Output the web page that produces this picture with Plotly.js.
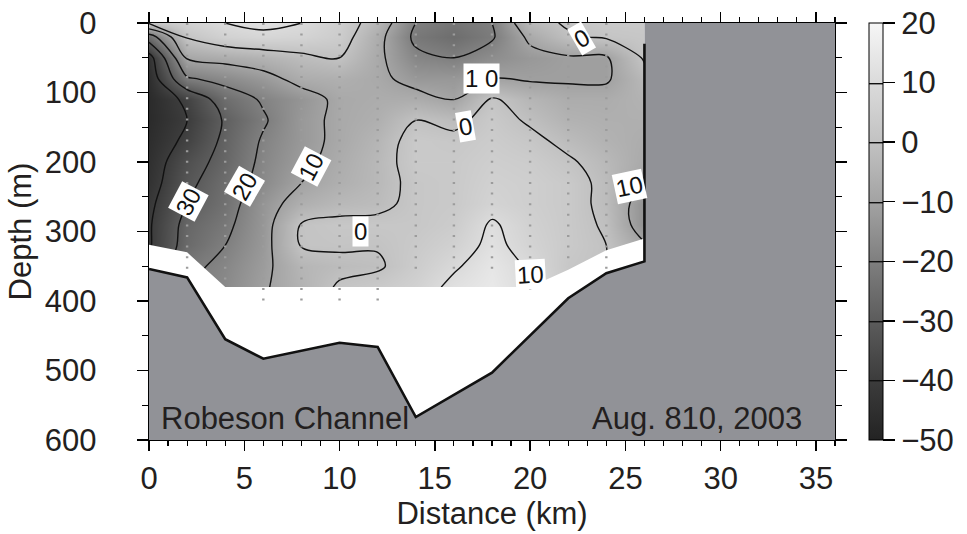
<!DOCTYPE html>
<html>
<head>
<meta charset="utf-8">
<script src="https://cdn.plot.ly/plotly-3.0.1.min.js"></script>
<style>html,body{margin:0;padding:0;background:#fff;}#chart{width:967px;height:534px;}</style>
</head>
<body>
<div id="chart"></div>
<script>
// ---- data ----
const stationsKm = [0,2,4,6,8,10,12,14,16,18,20,22,24,26];
const depthsM = [0,20,50,80,110,140,170,200,230,260,290,320,350,380];
// velocity (cm/s) per station column, top to bottom
const velKm0  = [1,-25,-44,-46,-47,-47,-46,-45,-44,-42,-41,-41,-40,-40];
const velKm2  = [6,1,-9,-21,-38,-40,-38,-34,-32,-30,-27,-26,-22,-20];
const velKm4  = [10,6,-7,-17,-25,-29,-28,-27,-25,-24,-22,-20,-18,-17];
const velKm6  = [12,8,-5,-13,-19,-21,-19,-18,-17,-14,-13.5,-13,-12,-11];
const velKm8  = [10,7,-2,-7,-14,-13,-13,-12,-10,-6,0.5,0.5,-4,-5];
const velKm10 = [5,4,0,-6,-8,-8,-8,-7,-6,-3,2,1,-2,1];
const velKm12 = [-4,-7,-8,-8,-7,-6,-4,-3,-3,-2,2,0.5,-1,3];
const velKm14 = [-20,-22,-18,-13,-7,0,3,3,2,2,2,3,4,6];
const velKm16 = [-23,-25,-20,-13,-10,-2,2,3,3,3,4,6,9,12];
const velKm18 = [-20,-21,-16,-10,1,3,4,5,6,7,11,12,14,15];
const velKm20 = [-3,-8,-13,-11,-4,-1,2,4,5,5,6,7,9,10];
const velKm22 = [1,-1,-11,-11,-7,-5,-2,1,3,3,3,3,2,3];
const velKm24 = [3,1,-11,-11,-7,-6,-5,-3,-2,-2,-1,0,0,0];
const velKm26 = [3,2,1,-3,-5,-6,-7,-8,-10,-15,-15,-9,-8,-8];
const velColumns = [velKm0,velKm2,velKm4,velKm6,velKm8,velKm10,velKm12,velKm14,velKm16,velKm18,velKm20,velKm22,velKm24,velKm26];

const bottomKm = [0,2,4,6,10,12,14,18,22,24,26];
const bottomDepthM = [354,366,455,483,460,466,567,503,396,360,343];
const wallTopM = 30;

const coverKm = [0,2,4,20,22,24,26];
const coverDepthM = [319,330,380,380,355,327,310];

const dotStationsKm = [2,4,6,8,10,12,14,16,18,20,22,24];
const dotBottomM = [356,372,402,402,402,402,356,356,356,387,342,356];

const cbTickVals = [-50,-40,-30,-20,-10,0,10,20];
const cbTickText = ['\u221250','\u221240','\u221230','\u221220','\u221210','0','10','20'];
const xTickVals = [0,5,10,15,20,25,30,35];
const yTickVals = [0,100,200,300,400,500,600];

const labelTexts = ['30','20','10','0','1 0','0','0','10','10'];
// ---- end data ----

const X_RANGE = [0,36], Y_RANGE = [600,0];
const FONT = 'Liberation Sans, Arial, Helvetica, sans-serif';
const INK = '#231f20';

// z[row=depth][col=station]
const z = depthsM.map((d,i)=>velColumns.map(col=>col[i]));

const colorscale = [
  [0,'#232323'],[1/7,'#3c3c3c'],[2/7,'#5c5c5c'],[3/7,'#7f7f7f'],
  [4/7,'#a3a3a3'],[5/7,'#c2c2c2'],[6/7,'#dbdbdb'],[1,'#f6f6f6']
];

const contour = {
  type:'contour', x:stationsKm, y:depthsM, z:z,
  zmin:-50, zmax:20, zauto:false,
  colorscale:colorscale,
  contours:{start:-40,end:10,size:10,coloring:'heatmap',showlines:true},
  line:{color:'#111',width:1.4},
  hoverinfo:'skip',
  colorbar:{
    x:(880-149)/696, xanchor:'left', xpad:0, ypad:0,
    y:0.5, yanchor:'middle', len:1, lenmode:'fraction',
    thickness:14, thicknessmode:'pixels',
    outlinewidth:1, outlinecolor:'#000',
    tickmode:'array', tickvals:cbTickVals, ticktext:cbTickText,
    ticks:'outside', ticklen:12, tickwidth:1.3, tickcolor:'#000',
    tickfont:{family:FONT,size:31,color:INK}
  }
};

// white no-data band between coverage edge and sea floor
const maskX = coverKm.concat(bottomKm.slice().reverse());
const maskY = coverDepthM.concat(bottomDepthM.slice().reverse());
const mask = {type:'scatter',mode:'lines',x:maskX,y:maskY,fill:'toself',
  fillcolor:'#ffffff',line:{width:0,color:'rgba(0,0,0,0)'},hoverinfo:'skip'};

// station dotted lines
const dx=[],dy=[];
dotStationsKm.forEach((s,i)=>{dx.push(s,s,null);dy.push(0,dotBottomM[i],null);});
const dots = {type:'scatter',mode:'lines',x:dx,y:dy,
  line:{color:'#9c9c9c',width:2.4,dash:'2px,8.6px'},hoverinfo:'skip'};

// land
const last = bottomKm.length-1;
const landX = bottomKm.concat([bottomKm[last],X_RANGE[1],X_RANGE[1],X_RANGE[0]]);
const landY = bottomDepthM.concat([Y_RANGE[1],Y_RANGE[1],Y_RANGE[0],Y_RANGE[0]]);
const land = {type:'scatter',mode:'lines',x:landX,y:landY,fill:'toself',
  fillcolor:'#919297',line:{width:0,color:'rgba(0,0,0,0)'},hoverinfo:'skip'};

const floorLine = {type:'scatter',mode:'lines',
  x:bottomKm.concat([bottomKm[last]]), y:bottomDepthM.concat([wallTopM]),
  line:{color:'#111',width:2.6},hoverinfo:'skip'};

const labelPlace = [
  {x:2.07,y:257,a:-62},{x:5.0,y:235,a:-60},{x:8.52,y:207,a:-62},
  {x:11.12,y:300,a:0},{x:17.45,y:80,a:0},{x:16.59,y:149,a:-10},
  {x:22.7,y:22,a:-30},{x:25.2,y:235,a:-12},{x:20.03,y:362,a:-3}
];
const annotations = labelTexts.map((t,i)=>({
  text:t,x:labelPlace[i].x,y:labelPlace[i].y,xref:'x',yref:'y',showarrow:false,
  textangle:labelPlace[i].a,bgcolor:'#fff',borderpad:1,
  font:{family:FONT,size:24,color:'#111'}
}));
annotations.push({text:'Robeson Channel',x:0.55,y:597,xref:'x',yref:'y',xanchor:'left',yanchor:'bottom',
  showarrow:false,font:{family:FONT,size:31,color:INK}});
annotations.push({text:'Aug. 810, 2003',x:34.35,y:597,xref:'x',yref:'y',xanchor:'right',yanchor:'bottom',
  showarrow:false,font:{family:FONT,size:31,color:INK}});

const axisCommon = {
  ticks:'outside', tickwidth:1.4, tickcolor:'#000',
  showline:true, linewidth:1.4, linecolor:'#000', mirror:'allticks',
  showgrid:false, zeroline:false, tickfont:{family:FONT,size:31,color:INK}
};

const layout = {
  width:967, height:534,
  margin:{l:149,r:122,t:23,b:94,pad:0},
  paper_bgcolor:'#fff', plot_bgcolor:'#fff',
  showlegend:false,
  font:{family:FONT,color:INK},
  xaxis:Object.assign({},axisCommon,{
    range:X_RANGE, tickmode:'array', tickvals:xTickVals, ticklen:10,
    minor:{ticks:'outside',dtick:1,tick0:0,ticklen:5,tickwidth:1.2,tickcolor:'#000'},
    title:{text:'Distance (km)',font:{family:FONT,size:31,color:INK},standoff:0}
  }),
  yaxis:Object.assign({},axisCommon,{
    range:Y_RANGE, tickmode:'array', tickvals:yTickVals, ticklen:11,
    ticklabelstandoff:34,
    minor:{ticks:'outside',dtick:50,tick0:0,ticklen:6,tickwidth:1.2,tickcolor:'#000'},
    title:{text:'Depth (m)',font:{family:FONT,size:31,color:INK},standoff:4}
  }),
  annotations:annotations
};

Plotly.newPlot('chart',[contour,mask,dots,land,floorLine],layout,{staticPlot:true,displayModeBar:false});
</script>
</body>
</html>
